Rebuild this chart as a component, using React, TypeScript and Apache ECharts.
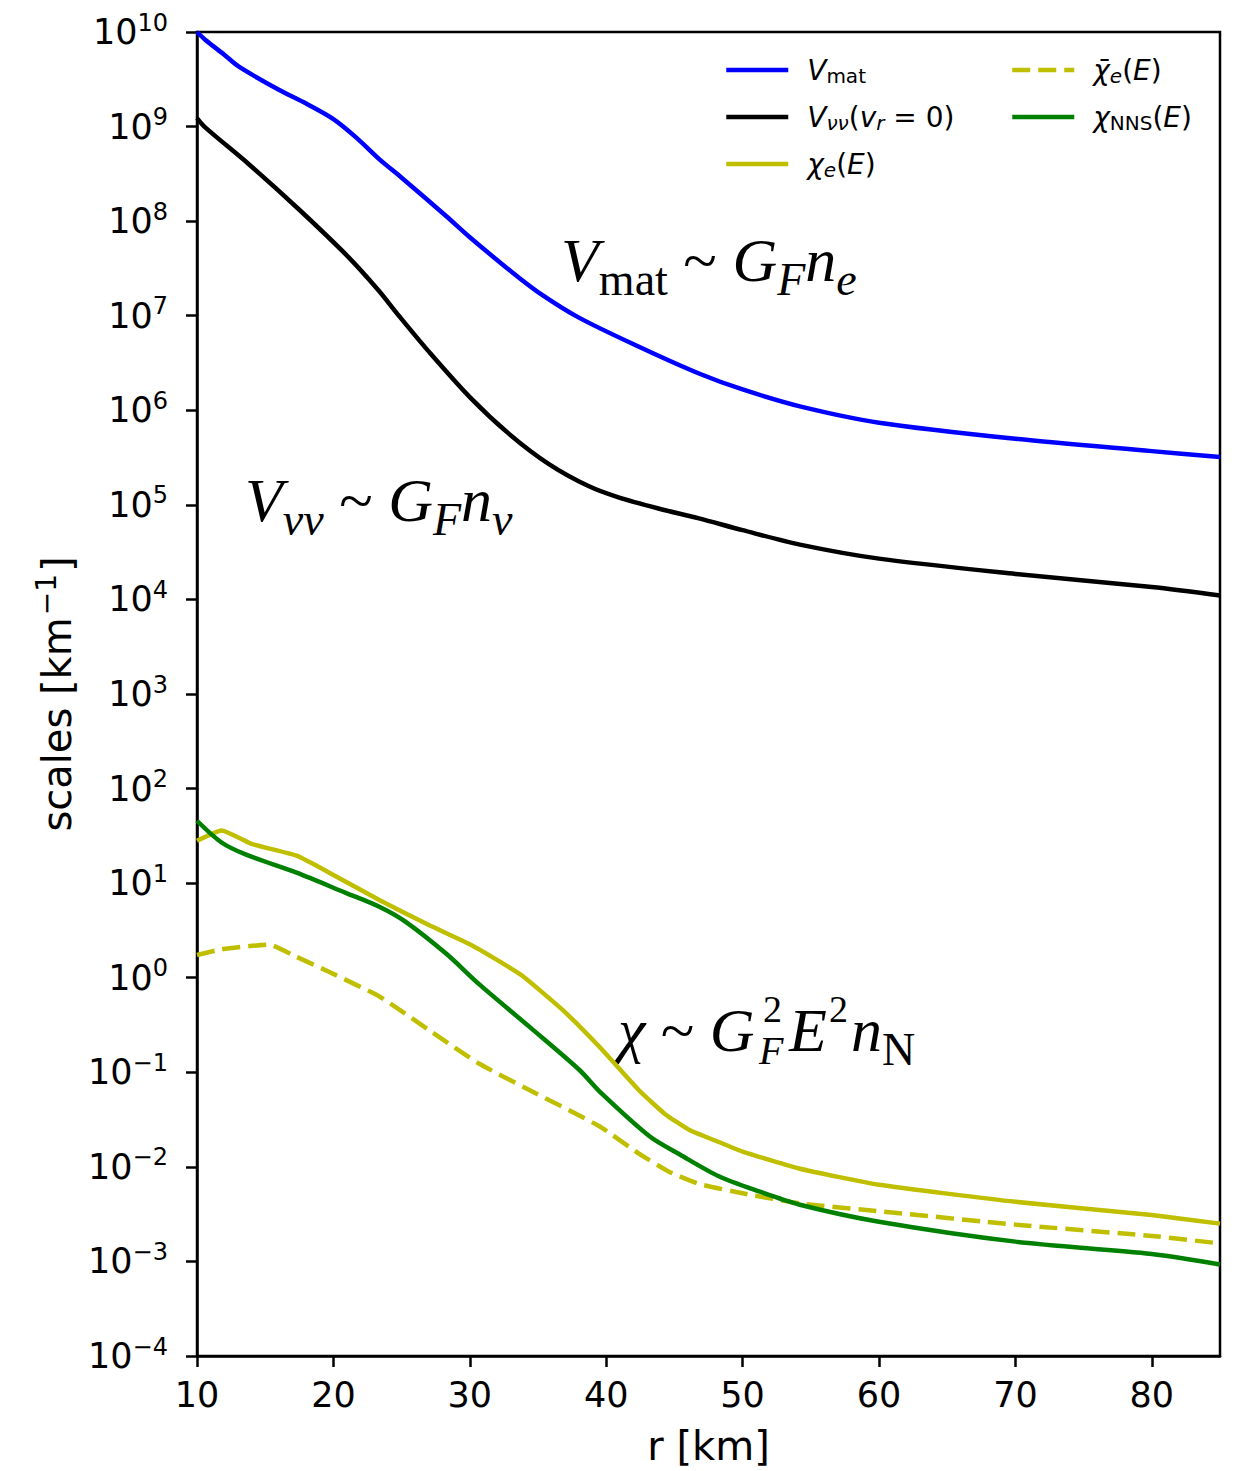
import React, { useEffect, useRef } from "react";
import * as echarts from "echarts";

// Radii [km] and values [km^-1] for each scale
const rMat = [10, 10.6, 12, 13.1, 16, 18, 20, 21.7, 23.4, 25, 28.3, 30, 33.1, 35, 38, 42.4, 46.8, 50, 54.2, 60, 70, 80, 85];
const vMat = [1.0e10, 8.3e9, 5.75e9, 4.27e9, 2.45e9, 1.75e9, 1.2e9, 7.6e8, 4.47e8, 2.88e8, 1.12e8, 6.76e7, 2.88e7, 1.78e7, 9.55e6, 4.7e6, 2.45e6, 1.66e6, 1.1e6, 7.4e5, 5.0e5, 3.7e5, 3.2e5];

const rNuNu = [10, 10.6, 13.8, 17.5, 21.1, 23.3, 24.8, 27, 30, 32.9, 35.8, 38.7, 40.9, 43.9, 46.8, 50, 54.2, 60, 70, 80, 85];
const vNuNu = [1.23e9, 9.8e8, 4.0e8, 1.32e8, 4.17e7, 1.86e7, 1.0e7, 4.17e6, 1.38e6, 5.6e5, 2.7e5, 1.58e5, 1.2e5, 9.1e4, 7.2e4, 5.4e4, 3.8e4, 2.7e4, 1.86e4, 1.35e4, 1.1e4];

const rChiE = [10, 11.8, 14, 17.3, 19.7, 23.4, 27, 30, 31.9, 33.8, 36.8, 39.5, 42.4, 44.3, 46.1, 48.3, 50, 54.2, 60, 70, 80, 85];
const vChiE = [28, 36, 26, 19.5, 12.9, 6.6, 3.6, 2.26, 1.57, 1.06, 0.457, 0.186, 0.0646, 0.0363, 0.0245, 0.0182, 0.0145, 0.00955, 0.00646, 0.00427, 0.00309, 0.00251];

const rChiBar = [10, 11.8, 15.3, 17.3, 19.7, 23.4, 27, 30.7, 34.4, 39.5, 42.4, 44.6, 46.8, 50, 54.2, 60, 70, 80, 85];
const vChiBar = [1.74, 2.0, 2.24, 1.66, 1.15, 0.63, 0.28, 0.123, 0.0646, 0.0269, 0.0138, 0.0089, 0.0066, 0.00525, 0.0041, 0.0034, 0.00245, 0.00186, 0.00155];

const rNNS = [10, 11.8, 13.6, 17.3, 20.9, 23.4, 25.3, 28.3, 30.7, 34.4, 38, 39.7, 43.2, 45.4, 48.3, 51.2, 54.2, 60, 70, 80, 85];
const vNNS = [45.7, 26.9, 20, 12.9, 7.9, 5.6, 3.9, 1.78, 0.85, 0.30, 0.107, 0.059, 0.0209, 0.0135, 0.0079, 0.0055, 0.00398, 0.00263, 0.00162, 0.0012, 0.00093];

const xTicks = [10, 20, 30, 40, 50, 60, 70, 80];

const SANS = "DejaVu Sans";
const SERIF = "Liberation Serif";

const seriesNames = ["Vmat", "Vνν(vr = 0)", "χe(E)", "χ̄e(E)", "χNNS(E)"];
const legendLabels: Record<string, string> = {
  "Vmat": "{g|}{i|V}{s|mat}",
  "Vνν(vr = 0)": "{g|}{i|V}{si|νν}{n|(}{i|v}{si|r}{n| = 0)}",
  "χe(E)": "{g|}{i|χ}{si|e}{n|(}{i|E}{n|)}",
  "χ̄e(E)": "{g|}{i|χ̄}{si|e}{n|(}{i|E}{n|)}",
  "χNNS(E)": "{g|}{i|χ}{s|NNS}{n|(}{i|E}{n|)}",
};

const pairs = (r: number[], v: number[]) => r.map((x, i) => [x, v[i]]);

const legendRich = {
  g: { width: 14 },
  i: { fontFamily: SANS, fontStyle: "italic", fontSize: 28, lineHeight: 32, verticalAlign: "middle", color: "#000" },
  n: { fontFamily: SANS, fontSize: 28, lineHeight: 32, verticalAlign: "middle", color: "#000" },
  s: { fontFamily: SANS, fontSize: 20, verticalAlign: "bottom", color: "#000" },
  si: { fontFamily: SANS, fontStyle: "italic", fontSize: 20, verticalAlign: "bottom", color: "#000" },
};

// Math-style annotation fragments: base glyphs and subscripts (bottom of the line box)
const serifRich = {
  v: { fontFamily: SERIF, fontStyle: "italic", fontSize: 62, lineHeight: 85, verticalAlign: "middle" },
  r: { fontFamily: SERIF, fontSize: 62, lineHeight: 85, verticalAlign: "middle" },
  sb: { fontFamily: SERIF, fontSize: 46, lineHeight: 85, verticalAlign: "bottom" },
  si: { fontFamily: SERIF, fontStyle: "italic", fontSize: 46, lineHeight: 85, verticalAlign: "bottom" },
};

const mathText = (x: number, y: number, text: string) => ({
  type: "text",
  x,
  y,
  style: { text, rich: serifRich, fill: "#000", verticalAlign: "top" },
});

// A single small glyph centred vertically on cy
const glyph = (x: number, cy: number, text: string, size: number, italic: boolean) => ({
  type: "text",
  x,
  y: cy,
  style: {
    text,
    font: `${italic ? "italic " : ""}${size}px "${SERIF}"`,
    lineHeight: size,
    fill: "#000",
    verticalAlign: "middle",
  },
});

export default function App() {
  const ref = useRef<HTMLDivElement>(null);

  useEffect(() => {
    if (!ref.current) return;
    const chart = echarts.init(ref.current, null, { renderer: "svg" });

    const lineSeries = (name: string, data: number[][], color: string, dashed: boolean, smooth: number, z: number) => ({
      name,
      type: "line",
      data,
      showSymbol: false,
      symbol: "none",
      smooth,
      z,
      lineStyle: { color, width: 4.5, type: dashed ? [18, 8] : "solid", cap: "butt", join: "round" },
      itemStyle: { color },
    });

    const legendCommon = {
      orient: "vertical",
      itemWidth: 62,
      itemHeight: 14,
      itemGap: 17,
      padding: 0,
      selectedMode: false,
      itemStyle: { opacity: 0, borderWidth: 0 },
      lineStyle: { width: 4.5 },
      formatter: (name: string) => legendLabels[name] ?? name,
      textStyle: { fontFamily: SANS, fontSize: 28, color: "#000", rich: legendRich },
    };

    chart.setOption({
      animation: false,
      backgroundColor: "#fff",
      grid: {
        left: 197,
        right: 16,
        top: 32,
        bottom: 111,
        show: true,
        borderColor: "#000",
        borderWidth: 2.5,
        backgroundColor: "transparent",
      },
      xAxis: {
        type: "value",
        min: 10,
        max: 85,
        interval: 10,
        axisLine: { show: true, onZero: false, lineStyle: { color: "#000", width: 2.5 } },
        axisTick: { show: true, length: 11, customValues: xTicks, lineStyle: { color: "#000", width: 2.5 } },
        axisLabel: {
          customValues: xTicks,
          margin: 21,
          fontFamily: SANS,
          fontSize: 35,
          color: "#000",
        },
        splitLine: { show: false },
        name: "r [km]",
        nameLocation: "middle",
        nameGap: 70,
        nameTextStyle: { fontFamily: SANS, fontSize: 40, color: "#000" },
      },
      yAxis: {
        type: "log",
        logBase: 10,
        min: 1e-4,
        max: 1e10,
        interval: 1,
        axisLine: { show: true, lineStyle: { color: "#000", width: 2.5 } },
        axisTick: { show: true, length: 11, lineStyle: { color: "#000", width: 2.5 } },
        minorTick: { show: false },
        splitLine: { show: false },
        axisLabel: {
          margin: 29,
          color: "#000",
          formatter: (v: number) => {
            const e = Math.round(Math.log10(v));
            return `{b|10}{s|${e < 0 ? "\u2212" + -e : e}}`;
          },
          rich: {
            b: { fontFamily: SANS, fontSize: 35, lineHeight: 43, verticalAlign: "middle", color: "#000" },
            s: { fontFamily: SANS, fontSize: 24, verticalAlign: "top", color: "#000" },
          },
        },
        name: "{b|scales [km}{s|\u22121}{b|]}",
        nameLocation: "middle",
        nameRotate: 90,
        nameGap: 113,
        nameTextStyle: {
          fontFamily: SANS,
          fontSize: 40,
          color: "#000",
          rich: {
            b: { fontFamily: SANS, fontSize: 40, lineHeight: 50, verticalAlign: "middle", color: "#000" },
            s: { fontFamily: SANS, fontSize: 28, verticalAlign: "top", color: "#000", padding: [0, 2, 0, 2] },
          },
        },
      },
      legend: [
        { ...legendCommon, left: 724, top: 56, data: seriesNames.slice(0, 3) },
        { ...legendCommon, left: 1010, top: 56, data: seriesNames.slice(3) },
      ],
      series: [
        lineSeries(seriesNames[0], pairs(rMat, vMat), "#0000ff", false, 0.3, 2),
        lineSeries(seriesNames[1], pairs(rNuNu, vNuNu), "#000000", false, 0.3, 3),
        lineSeries(seriesNames[2], pairs(rChiE, vChiE), "#bfbf00", false, 0.15, 4),
        lineSeries(seriesNames[3], pairs(rChiBar, vChiBar), "#bfbf00", true, 0.15, 5),
        lineSeries(seriesNames[4], pairs(rNNS, vNNS), "#008000", false, 0.3, 6),
      ],
      graphic: [
        mathText(561, 217, "{v|V}{sb|mat}{r| ~ }{v|G}{si|F}{v|n}{si|e}"),
        mathText(245, 457, "{v|V}{si|νν}{r| ~ }{v|G}{si|F}{v|n}{si|ν}"),
        // χ ~ G_F^2 E^2 n_N, with the stacked sub/superscript placed piece by piece
        mathText(618, 987, "{v|χ}{r| ~ }{v|G}"),
        glyph(763, 1009, "2", 38, false),
        glyph(759, 1050, "F", 40, true),
        mathText(789, 987, "{v|E}"),
        glyph(829, 1009, "2", 38, false),
        mathText(851, 987, "{v|n}{sb|N}"),
      ],
    });

    return () => chart.dispose();
  }, []);

  return (
    <div
      ref={ref}
      style={{ position: "absolute", left: 0, top: 0, width: 1236, height: 1471 }}
    />
  );
}
